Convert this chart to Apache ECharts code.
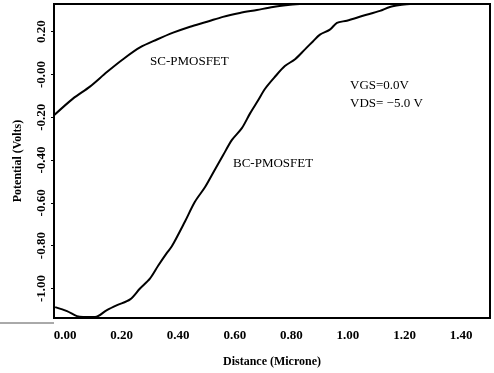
<!DOCTYPE html>
<html>
<head>
<meta charset="utf-8">
<script src="https://cdn.jsdelivr.net/npm/echarts@6/dist/echarts.min.js"></script>
<style>html,body{margin:0;padding:0;background:#fff;}#c{width:494px;height:373px;}</style>
</head>
<body>
<div id="c"></div>
<script>
// Data
var xTicks = [0, 0.2, 0.4, 0.6, 0.8, 1.0, 1.2, 1.4];
var yTicks = [-1.0, -0.8, -0.6, -0.4, -0.2, 0, 0.2];

var scX = [-0.039, 0.028, 0.088, 0.148, 0.205, 0.265, 0.325, 0.382, 0.442, 0.502, 0.558, 0.618, 0.678, 0.735, 0.788, 0.830];
var scY = [-0.191, -0.113, -0.057, 0.011, 0.071, 0.126, 0.163, 0.195, 0.223, 0.246, 0.269, 0.287, 0.301, 0.315, 0.324, 0.329];

var bcX = [-0.035, 0.007, 0.042, 0.064, 0.106, 0.148, 0.184, 0.230, 0.265, 0.300, 0.329, 0.360, 0.378, 0.424, 0.459, 0.495, 0.530, 0.558, 0.590, 0.625, 0.654, 0.682, 0.707, 0.742, 0.777, 0.813, 0.848, 0.876, 0.901, 0.936, 0.961, 0.996, 1.053, 1.113, 1.148, 1.184, 1.219];
var bcY = [-1.087, -1.106, -1.129, -1.133, -1.133, -1.101, -1.078, -1.051, -1.000, -0.954, -0.894, -0.834, -0.802, -0.687, -0.595, -0.526, -0.444, -0.379, -0.306, -0.251, -0.182, -0.122, -0.067, -0.011, 0.039, 0.071, 0.117, 0.154, 0.186, 0.209, 0.241, 0.251, 0.274, 0.297, 0.315, 0.324, 0.329];

function zip(a, b) { return a.map(function (v, i) { return [v, b[i]]; }); }

var FONT = '"Liberation Serif", "DejaVu Serif", serif';
var chart = echarts.init(document.getElementById('c'), null, { renderer: 'canvas' });
chart.setOption({
  animation: false,
  backgroundColor: '#fff',
  grid: { left: 54, right: 4, top: 4, bottom: 50, show: true, borderColor: '#000', borderWidth: 2, backgroundColor: 'transparent' },
  xAxis: {
    type: 'value', min: -0.039, max: 1.502,
    name: 'Distance (Microne)', nameLocation: 'middle', nameGap: 38,
    nameTextStyle: { fontFamily: FONT, fontWeight: 'bold', fontSize: 12, color: '#000' },
    axisLine: { show: true, onZero: false, lineStyle: { color: '#000', width: 2 } },
    axisTick: { show: false },
    splitLine: { show: false },
    axisLabel: {
      customValues: xTicks, margin: 11,
      fontFamily: FONT, fontWeight: 'bold', fontSize: 13, color: '#000',
      formatter: function (v) { return v.toFixed(2); }
    }
  },
  yAxis: {
    type: 'value', min: -1.138, max: 0.329,
    name: 'Potential (Volts)', nameLocation: 'middle', nameGap: 30, nameRotate: 90,
    nameTextStyle: { fontFamily: FONT, fontWeight: 'bold', fontSize: 12, color: '#000' },
    axisLine: { show: true, onZero: false, lineStyle: { color: '#000', width: 2 } },
    axisTick: { show: true, customValues: yTicks, length: 3, lineStyle: { color: '#000' } },
    splitLine: { show: false },
    axisLabel: {
      customValues: yTicks, rotate: 90, margin: 6,
      fontFamily: FONT, fontWeight: 'bold', fontSize: 13, color: '#000',
      formatter: function (v) {
        if (Math.abs(v) < 1e-9) return '-0.00';
        return v.toFixed(2);
      }
    }
  },
  series: [
    { name: 'SC-PMOSFET', type: 'line', data: zip(scX, scY), showSymbol: false, smooth: 0.3,
      lineStyle: { color: '#000', width: 2 }, clip: true },
    { name: 'BC-PMOSFET', type: 'line', data: zip(bcX, bcY), showSymbol: false, smooth: 0.3,
      lineStyle: { color: '#000', width: 2 }, clip: true }
  ],
  graphic: [
    { type: 'line', shape: { x1: 0, y1: 323, x2: 54, y2: 323 }, style: { stroke: '#555', lineWidth: 1 } },
    { type: 'text', left: 150, top: 55, style: { text: 'SC-PMOSFET', font: '13px ' + FONT, fill: '#000' } },
    { type: 'text', left: 233, top: 157, style: { text: 'BC-PMOSFET', font: '13px ' + FONT, fill: '#000' } },
    { type: 'text', left: 350, top: 79, style: { text: 'VGS=0.0V', font: '13px ' + FONT, fill: '#000' } },
    { type: 'text', left: 350, top: 97, style: { text: 'VDS= \u22125.0 V', font: '13px ' + FONT, fill: '#000' } }
  ]
});
</script>
</body>
</html>
